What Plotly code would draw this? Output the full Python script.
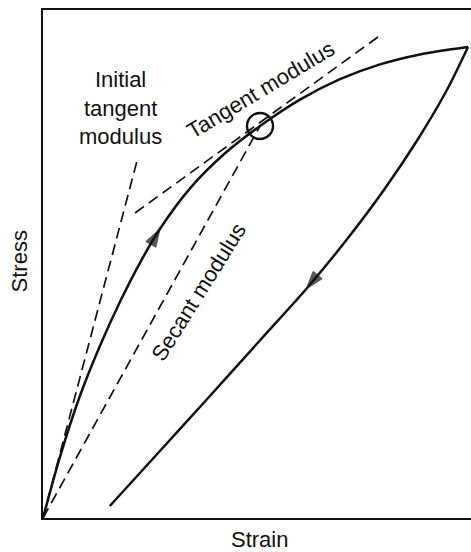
import plotly.graph_objects as go

# Loading curve (strain, stress) - normalised units
load_strain = [0.0, 0.0397, 0.0864, 0.1332, 0.1799, 0.2266, 0.2734, 0.3435, 0.4252,
               0.5070, 0.6005, 0.6939, 0.7874, 0.8808, 0.9930]
load_stress = [0.0, 0.1205, 0.2406, 0.3390, 0.4256, 0.5024, 0.5693, 0.6490, 0.7179,
               0.7717, 0.8236, 0.8638, 0.8929, 0.9126, 0.9272]

# Unloading curve
unload_strain = [0.9930, 0.9437, 0.8748, 0.7965, 0.7089, 0.6150, 0.5077, 0.3815,
                 0.2540, 0.1561]
unload_stress = [0.9272, 0.8425, 0.7441, 0.6457, 0.5472, 0.4508, 0.3504, 0.2323,
                 0.1142, 0.0236]

# Modulus lines
init_tan_strain = [0.0, 0.2220]
init_tan_stress = [0.0, 0.7106]
tan_strain = [0.2150, 0.7827]
tan_stress = [0.6004, 0.9469]
secant_strain = [0.0, 0.5070]
secant_stress = [0.0, 0.7717]

POINT_IDX = 9         # point where tangent/secant are taken (circled)
LOAD_ARROW_IDX = 6
UNLOAD_ARROW_IDX = 5

INK = "#111111"
FONT = "Liberation Sans, Arial, Helvetica, sans-serif"
DASH = "11px,6px"

fig = go.Figure()

for xs, ys in [(init_tan_strain, init_tan_stress), (tan_strain, tan_stress),
               (secant_strain, secant_stress)]:
    fig.add_trace(go.Scatter(x=xs, y=ys, mode="lines",
                             line=dict(color=INK, width=1.7, dash=DASH),
                             hoverinfo="skip"))

fig.add_trace(go.Scatter(x=load_strain, y=load_stress, mode="lines",
                         line=dict(color=INK, width=2.5, shape="spline", smoothing=0.8),
                         hoverinfo="skip"))
fig.add_trace(go.Scatter(x=unload_strain, y=unload_stress, mode="lines",
                         line=dict(color=INK, width=2.5, shape="spline", smoothing=0.8),
                         cliponaxis=False, hoverinfo="skip"))

# arrowheads (direction taken from the previous point of each curve)
for xs, ys, i in [(load_strain, load_stress, LOAD_ARROW_IDX),
                  (unload_strain, unload_stress, UNLOAD_ARROW_IDX)]:
    fig.add_trace(go.Scatter(x=[xs[i - 1], xs[i]], y=[ys[i - 1], ys[i]], mode="markers",
                             marker=dict(symbol="arrow", size=[0, 19], color=INK,
                                         angleref="previous",
                                         line=dict(width=1, color=INK)),
                             cliponaxis=False, hoverinfo="skip"))

# circle at the point
fig.add_trace(go.Scatter(x=[load_strain[POINT_IDX]], y=[load_stress[POINT_IDX]],
                         mode="markers",
                         marker=dict(symbol="circle-open", size=26, color=INK,
                                     line=dict(color=INK, width=2.4)),
                         hoverinfo="skip"))

tf = dict(family=FONT, size=22, color=INK)
fig.add_annotation(x=0.1799, y=0.808, xref="x", yref="y", showarrow=False,
                   text="Initial<br>tangent<br>modulus", font=tf, align="center")
fig.add_annotation(x=0.510, y=0.843, xref="x", yref="y", showarrow=False,
                   text="Tangent modulus", font=tf, textangle=-31)
fig.add_annotation(x=0.365, y=0.445, xref="x", yref="y", showarrow=False,
                   text="Secant modulus", font=tf, textangle=-58)
fig.add_annotation(x=-0.055, y=0.506, xref="paper", yref="paper", showarrow=False,
                   xanchor="center", yanchor="middle",
                   text="Stress", font=tf, textangle=-90)
fig.add_annotation(x=0.507, y=-0.043, xref="paper", yref="paper", showarrow=False,
                   xanchor="center", yanchor="middle",
                   text="Strain", font=tf)

fig.update_xaxes(range=[0, 1], showgrid=False, zeroline=False, showticklabels=False,
                 ticks="", showline=True, linecolor=INK, linewidth=2, mirror=True)
fig.update_yaxes(range=[0, 1], showgrid=False, zeroline=False, showticklabels=False,
                 ticks="", showline=True, linecolor=INK, linewidth=2, mirror=False)

fig.update_layout(width=471, height=552, margin=dict(l=43, r=0, t=10, b=34),
                  paper_bgcolor="white", plot_bgcolor="white", showlegend=False,
                  font=dict(family=FONT, color=INK))

# remove the default 8px page margin so the figure fills the window exactly
fig.write_html("out.html",
               config={"displayModeBar": False},
               post_script="document.body.style.margin='0';"
                           "document.body.style.overflow='hidden';"
                           "document.documentElement.style.overflow='hidden';")
